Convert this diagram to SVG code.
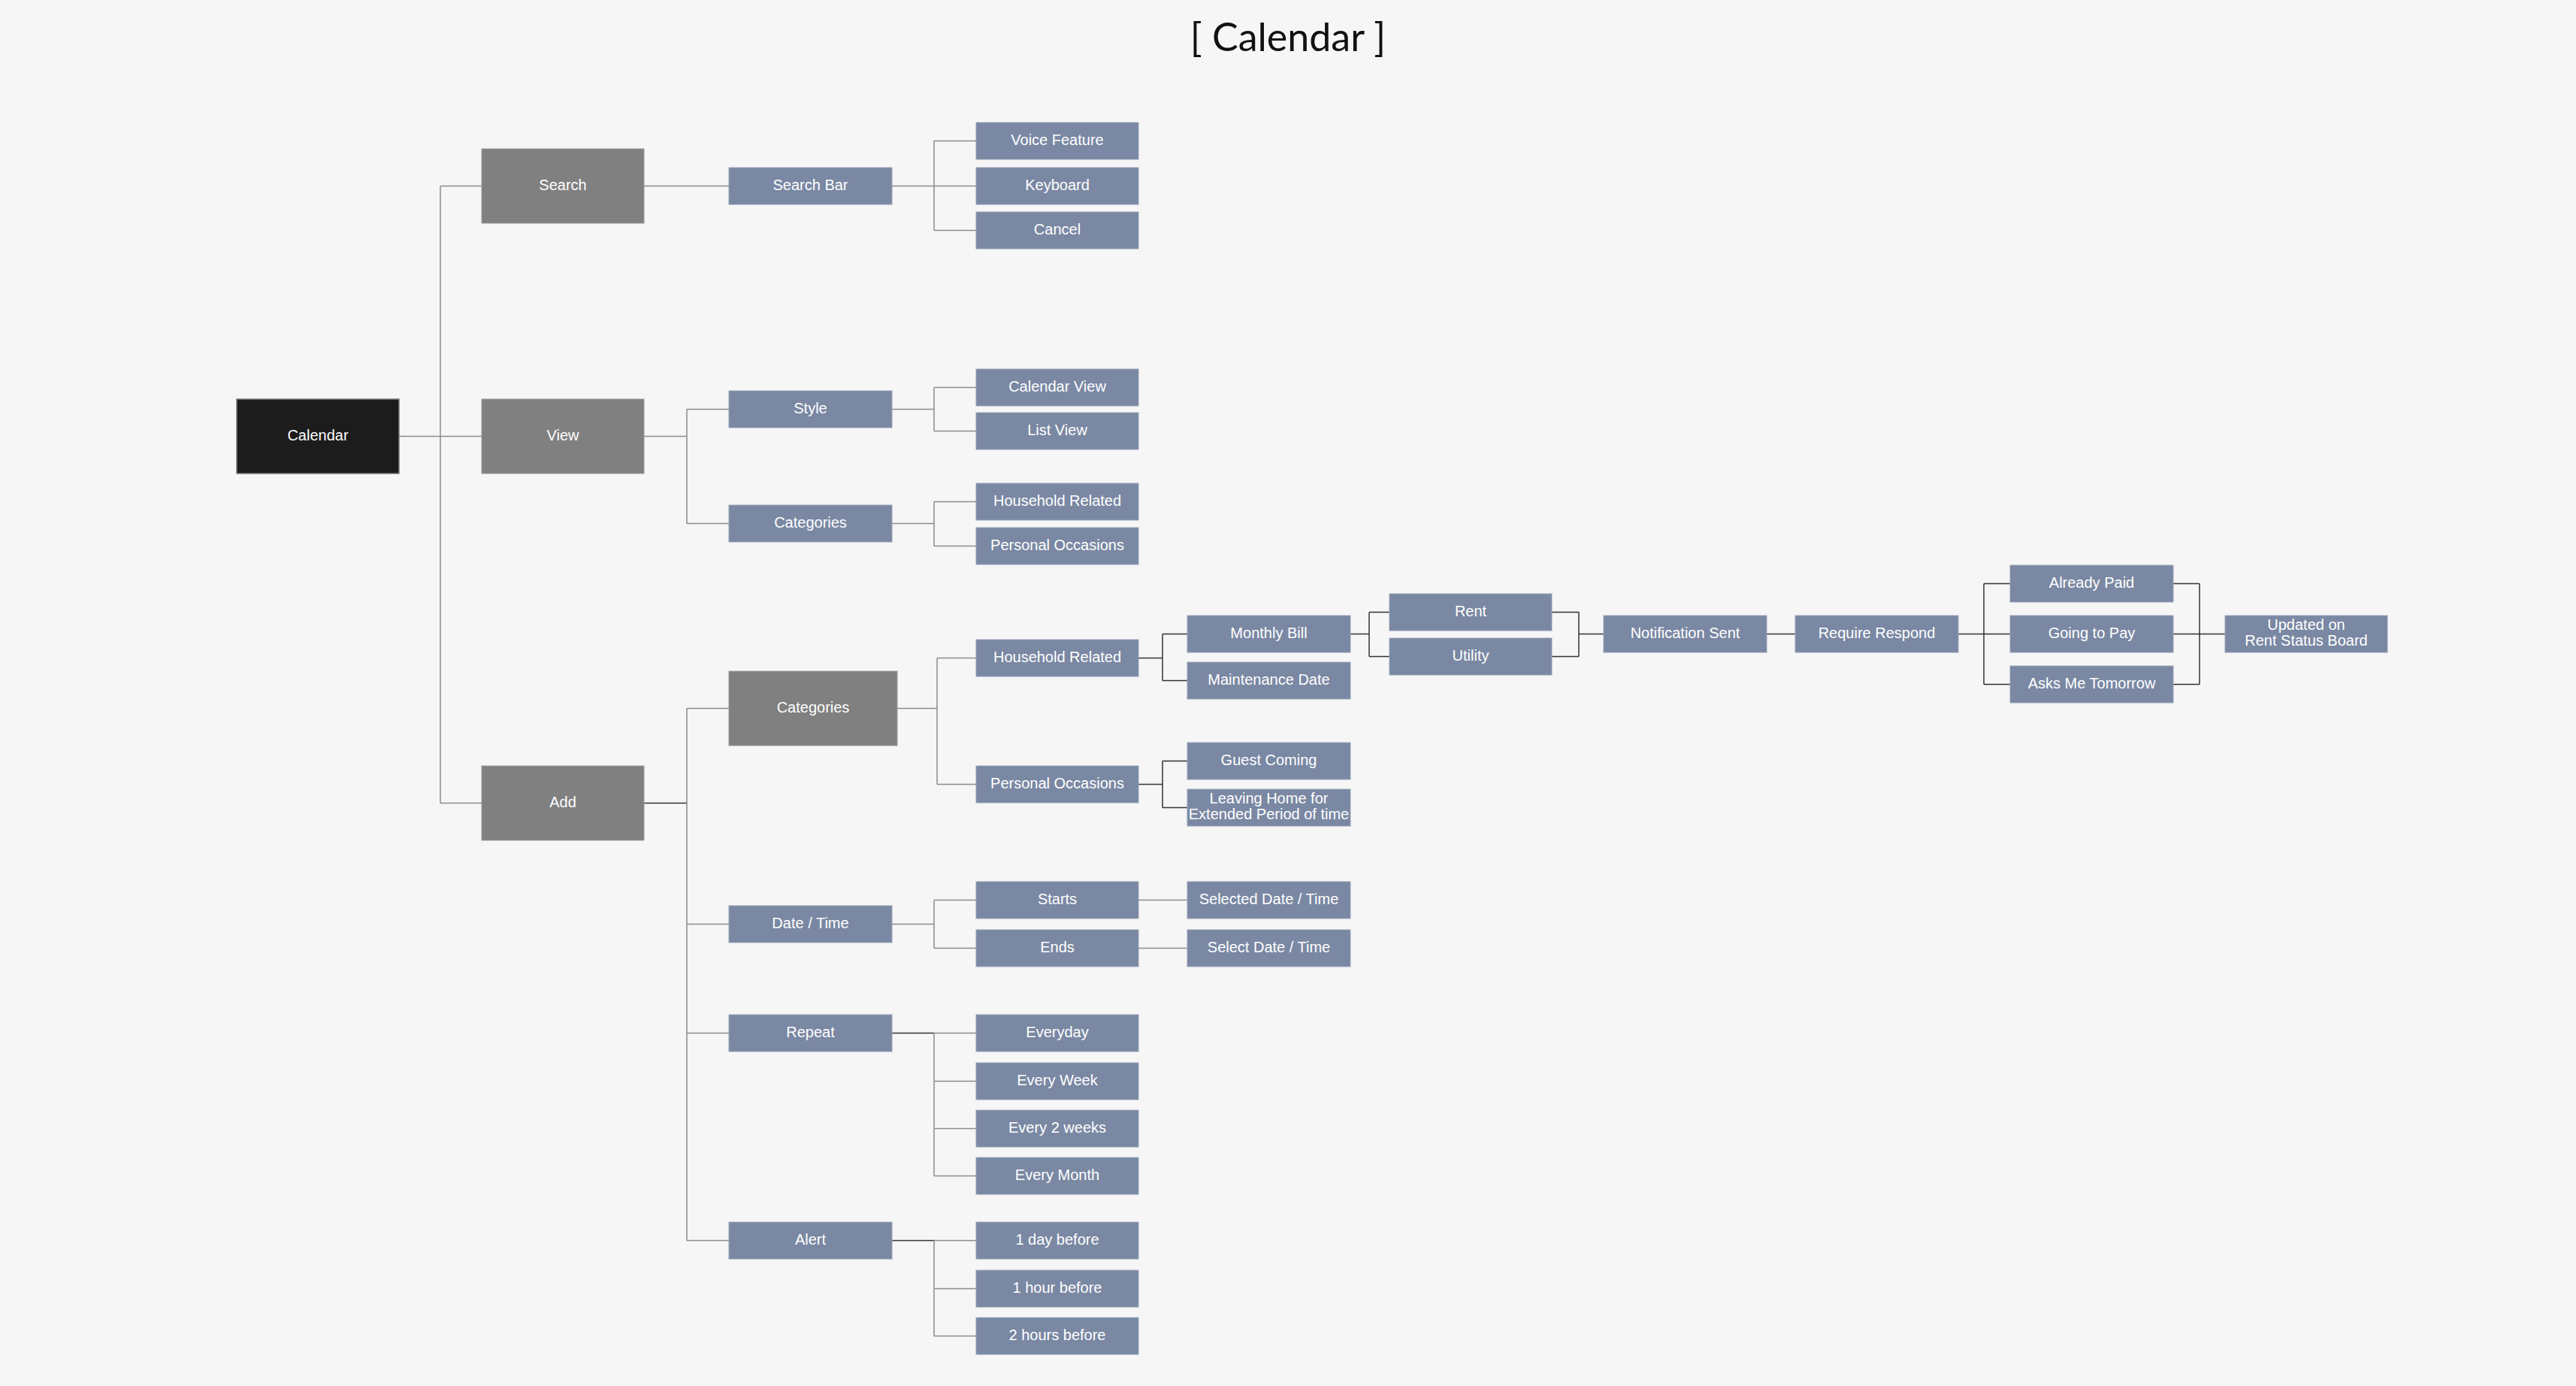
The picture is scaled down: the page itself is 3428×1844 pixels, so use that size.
<svg xmlns="http://www.w3.org/2000/svg" width="3428" height="1844" viewBox="0 0 3428 1844">
<style>
.bg{fill:#f6f6f6}
.n{fill:#7a88a3;stroke:#96a1b6;stroke-width:1}
.g{fill:#808080;stroke:#9a9a9a;stroke-width:1}
.r{fill:#1c1c1c;stroke:#7a7a7a;stroke-width:1.5}
.t{font-family:"Liberation Sans",Arial,sans-serif;font-size:20px;fill:#ffffff;text-anchor:middle}
.title{font-family:Lato,"Noto Sans",sans-serif;font-size:52px;fill:#111111;text-anchor:middle}
.c{fill:none;stroke:#8c8c8c;stroke-width:1.5}
.d{fill:none;stroke:#333333;stroke-width:1.5}
</style>
<rect class="bg" x="0" y="0" width="3428" height="1844"/>
<text class="title" x="1714" y="68">[ Calendar ]</text>

<g id="connectors">
  <path class="c" d="M531,580.5H586M586,247.5V1068.5M586,247.5H641M586,580.5H641M586,1068.5H641"/>
  <path class="c" d="M857,247.5H970"/>
  <path class="c" d="M1187,247.5H1243M1243,187.5V306.5M1243,187.5H1299M1243,247.5H1299M1243,306.5H1299"/>
  <path class="c" d="M857,580.5H914M914,544.5V696.5M914,544.5H970M914,696.5H970"/>
  <path class="c" d="M1187,544.5H1243M1243,515.5V573.5M1243,515.5H1299M1243,573.5H1299"/>
  <path class="c" d="M1187,696.5H1243M1243,667.5V726.5M1243,667.5H1299M1243,726.5H1299"/>
  <path class="d" d="M857,1068.5H914"/>
  <path class="c" d="M914,942.5V1650.5M914,942.5H970M914,1229.5H970M914,1374.5H970M914,1650.5H970"/>
  <path class="c" d="M1194,942.5H1247M1247,875.5V1043.5M1247,875.5H1299M1247,1043.5H1299"/>
  <path class="d" d="M1515,875.5H1547M1547,843.5V905.5M1547,843.5H1580M1547,905.5H1580"/>
  <path class="d" d="M1515,1043.5H1547M1547,1012.5V1074.5M1547,1012.5H1580M1547,1074.5H1580"/>
  <path class="d" d="M1797,843.5H1822M1822,814.5V873.5M1822,814.5H1849M1822,873.5H1849"/>
  <path class="d" d="M2065,814.5H2101M2065,873.5H2101M2101,814.5V873.5M2101,843.5H2134"/>
  <path class="d" d="M2351,843.5H2389"/>
  <path class="d" d="M2606,843.5H2640M2640,776.5V910.5M2640,776.5H2675M2640,843.5H2675M2640,910.5H2675"/>
  <path class="d" d="M2892,776.5H2927M2892,843.5H2927M2892,910.5H2927M2927,776.5V910.5M2927,843.5H2961"/>
  <path class="c" d="M1187,1229.5H1243M1243,1197.5V1261.5M1243,1197.5H1299M1243,1261.5H1299"/>
  <path class="c" d="M1515,1197.5H1580M1515,1261.5H1580"/>
  <path class="d" d="M1187,1374.5H1243"/>
  <path class="c" d="M1243,1374.5V1564.5M1243,1374.5H1299M1243,1438.5H1299M1243,1501.5H1299M1243,1564.5H1299"/>
  <path class="d" d="M1187,1650.5H1243"/>
  <path class="c" d="M1243,1650.5V1777.5M1243,1650.5H1299M1243,1714.5H1299M1243,1777.5H1299"/>
</g>

<g id="node-calendar"><rect class="r" x="315" y="531" width="216" height="99"/><text class="t" x="423" y="586">Calendar</text></g>
<g id="node-search"><rect class="g" x="641" y="198" width="216" height="99"/><text class="t" x="749" y="253">Search</text></g>
<g id="node-view"><rect class="g" x="641" y="531" width="216" height="99"/><text class="t" x="749" y="586">View</text></g>
<g id="node-add"><rect class="g" x="641" y="1019" width="216" height="99"/><text class="t" x="749" y="1074">Add</text></g>

<g id="node-search-bar"><rect class="n" x="970" y="223" width="217" height="49"/><text class="t" x="1078.5" y="253">Search Bar</text></g>
<g id="node-voice"><rect class="n" x="1299" y="163" width="216" height="49"/><text class="t" x="1407" y="193">Voice Feature</text></g>
<g id="node-keyboard"><rect class="n" x="1299" y="223" width="216" height="49"/><text class="t" x="1407" y="253">Keyboard</text></g>
<g id="node-cancel"><rect class="n" x="1299" y="282" width="216" height="49"/><text class="t" x="1407" y="312">Cancel</text></g>

<g id="node-style"><rect class="n" x="970" y="520" width="217" height="49"/><text class="t" x="1078.5" y="550">Style</text></g>
<g id="node-calendar-view"><rect class="n" x="1299" y="491" width="216" height="49"/><text class="t" x="1407" y="521">Calendar View</text></g>
<g id="node-list-view"><rect class="n" x="1299" y="549" width="216" height="49"/><text class="t" x="1407" y="579">List View</text></g>
<g id="node-view-categories"><rect class="n" x="970" y="672" width="217" height="49"/><text class="t" x="1078.5" y="702">Categories</text></g>
<g id="node-view-household"><rect class="n" x="1299" y="643" width="216" height="49"/><text class="t" x="1407" y="673">Household Related</text></g>
<g id="node-view-personal"><rect class="n" x="1299" y="702" width="216" height="49"/><text class="t" x="1407" y="732">Personal Occasions</text></g>

<g id="node-add-categories"><rect class="g" x="970" y="893" width="224" height="99"/><text class="t" x="1082" y="948">Categories</text></g>
<g id="node-add-household"><rect class="n" x="1299" y="851" width="216" height="49"/><text class="t" x="1407" y="881">Household Related</text></g>
<g id="node-add-personal"><rect class="n" x="1299" y="1019" width="216" height="49"/><text class="t" x="1407" y="1049">Personal Occasions</text></g>
<g id="node-monthly-bill"><rect class="n" x="1580" y="819" width="217" height="49"/><text class="t" x="1688.5" y="849">Monthly Bill</text></g>
<g id="node-maintenance"><rect class="n" x="1580" y="881" width="217" height="49"/><text class="t" x="1688.5" y="911">Maintenance Date</text></g>
<g id="node-guest"><rect class="n" x="1580" y="988" width="217" height="49"/><text class="t" x="1688.5" y="1018">Guest Coming</text></g>
<g id="node-leaving"><rect class="n" x="1580" y="1050" width="217" height="49"/><text class="t" x="1688.5" y="1069">Leaving Home for</text><text class="t" x="1688.5" y="1090">Extended Period of time</text></g>
<g id="node-rent"><rect class="n" x="1849" y="790" width="216" height="49"/><text class="t" x="1957" y="820">Rent</text></g>
<g id="node-utility"><rect class="n" x="1849" y="849" width="216" height="49"/><text class="t" x="1957" y="879">Utility</text></g>
<g id="node-notification"><rect class="n" x="2134" y="819" width="217" height="49"/><text class="t" x="2242.5" y="849">Notification Sent</text></g>
<g id="node-require"><rect class="n" x="2389" y="819" width="217" height="49"/><text class="t" x="2497.5" y="849">Require Respond</text></g>
<g id="node-already-paid"><rect class="n" x="2675" y="752" width="217" height="49"/><text class="t" x="2783.5" y="782">Already Paid</text></g>
<g id="node-going-to-pay"><rect class="n" x="2675" y="819" width="217" height="49"/><text class="t" x="2783.5" y="849">Going to Pay</text></g>
<g id="node-asks-tomorrow"><rect class="n" x="2675" y="886" width="217" height="49"/><text class="t" x="2783.5" y="916">Asks Me Tomorrow</text></g>
<g id="node-updated"><rect class="n" x="2961" y="819" width="216" height="49"/><text class="t" x="3069" y="838">Updated on</text><text class="t" x="3069" y="859">Rent Status Board</text></g>

<g id="node-date-time"><rect class="n" x="970" y="1205" width="217" height="49"/><text class="t" x="1078.5" y="1235">Date / Time</text></g>
<g id="node-starts"><rect class="n" x="1299" y="1173" width="216" height="49"/><text class="t" x="1407" y="1203">Starts</text></g>
<g id="node-ends"><rect class="n" x="1299" y="1237" width="216" height="49"/><text class="t" x="1407" y="1267">Ends</text></g>
<g id="node-selected-dt"><rect class="n" x="1580" y="1173" width="217" height="49"/><text class="t" x="1688.5" y="1203">Selected Date / Time</text></g>
<g id="node-select-dt"><rect class="n" x="1580" y="1237" width="217" height="49"/><text class="t" x="1688.5" y="1267">Select Date / Time</text></g>

<g id="node-repeat"><rect class="n" x="970" y="1350" width="217" height="49"/><text class="t" x="1078.5" y="1380">Repeat</text></g>
<g id="node-everyday"><rect class="n" x="1299" y="1350" width="216" height="49"/><text class="t" x="1407" y="1380">Everyday</text></g>
<g id="node-every-week"><rect class="n" x="1299" y="1414" width="216" height="49"/><text class="t" x="1407" y="1444">Every Week</text></g>
<g id="node-every-2-weeks"><rect class="n" x="1299" y="1477" width="216" height="49"/><text class="t" x="1407" y="1507">Every 2 weeks</text></g>
<g id="node-every-month"><rect class="n" x="1299" y="1540" width="216" height="49"/><text class="t" x="1407" y="1570">Every Month</text></g>

<g id="node-alert"><rect class="n" x="970" y="1626" width="217" height="49"/><text class="t" x="1078.5" y="1656">Alert</text></g>
<g id="node-1-day"><rect class="n" x="1299" y="1626" width="216" height="49"/><text class="t" x="1407" y="1656">1 day before</text></g>
<g id="node-1-hour"><rect class="n" x="1299" y="1690" width="216" height="49"/><text class="t" x="1407" y="1720">1 hour before</text></g>
<g id="node-2-hours"><rect class="n" x="1299" y="1753" width="216" height="49"/><text class="t" x="1407" y="1783">2 hours before</text></g>
</svg>
